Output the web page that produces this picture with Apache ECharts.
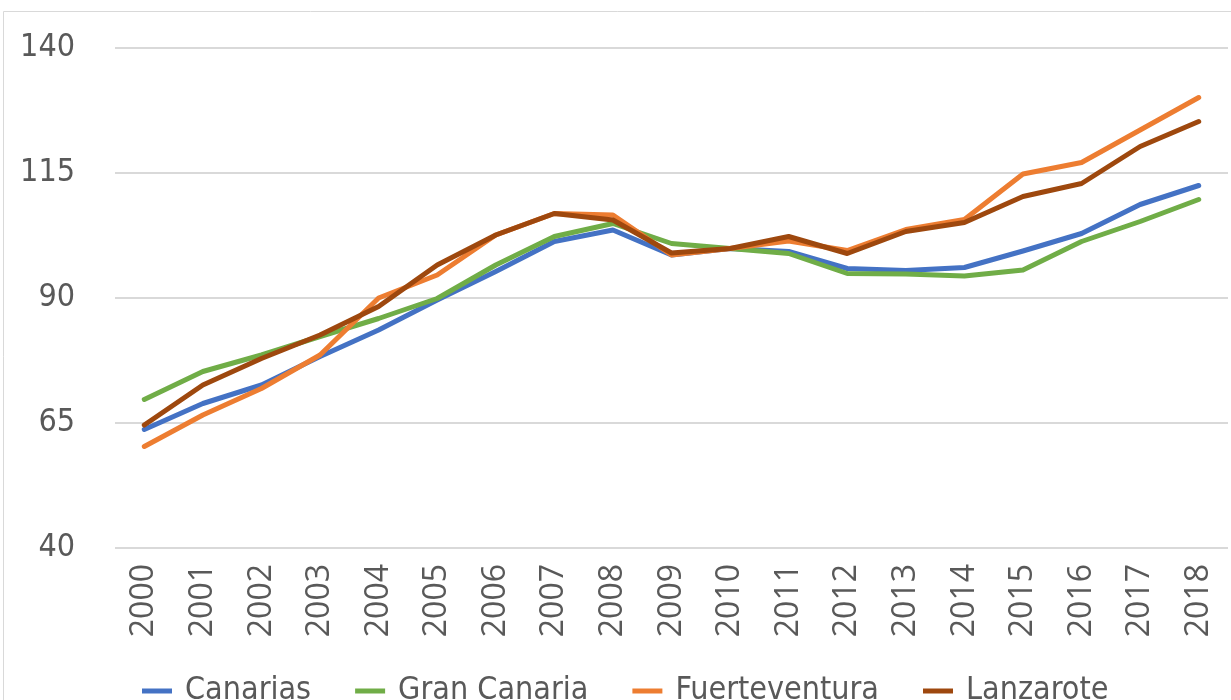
<!DOCTYPE html>
<html>
<head>
<meta charset="utf-8">
<script src="https://cdn.jsdelivr.net/npm/echarts@6/dist/echarts.min.js"></script>
<style>
  html, body { margin: 0; padding: 0; background: #fff; }
  #chart { width: 1231px; height: 700px; }
</style>
</head>
<body>
<div id="chart"></div>
<script>
// años
var years = ["2000", "2001", "2002", "2003", "2004", "2005", "2006", "2007", "2008", "2009",
  "2010", "2011", "2012", "2013", "2014", "2015", "2016", "2017", "2018"];
var canarias = [63.7, 68.9, 72.6, 78.3, 83.6, 89.6, 95.3, 101.3, 103.6, 98.6, 99.9, 99.3, 95.9, 95.5, 96.1, 99.4, 102.9, 108.7, 112.5];
var granCanaria = [69.7, 75.3, 78.6, 82.3, 85.9, 89.9, 96.6, 102.3, 104.9, 100.9, 99.9, 98.9, 94.9, 94.8, 94.4, 95.6, 101.3, 105.3, 109.7];
var fuerteventura = [60.3, 66.6, 71.9, 78.6, 90.0, 94.6, 102.6, 106.9, 106.6, 98.6, 99.9, 101.4, 99.5, 103.7, 105.7, 114.8, 117.1, 123.6, 130.1];
var lanzarote = [64.6, 72.6, 77.9, 82.6, 88.3, 96.6, 102.6, 106.9, 105.6, 99.0, 99.9, 102.3, 98.9, 103.3, 105.1, 110.3, 112.9, 120.3, 125.3];

var textColor = "#595959";
var narrow = "'Liberation Sans Narrow', 'DejaVu Sans Condensed', sans-serif";

function serie(name, data, color) {
  return {
    name: name,
    type: "line",
    data: data,
    symbol: "none",
    itemStyle: { color: color },
    lineStyle: { width: 5, color: color, cap: "round", join: "round" }
  };
}

var chart = echarts.init(document.getElementById("chart"));
chart.setOption({
  animation: false,
  backgroundColor: "#fff",
  grid: { left: 115, right: 3, top: 48, bottom: 152 },
  legend: {
    top: 670,
    left: 137,
    itemWidth: 30,
    itemHeight: 5,
    itemGap: 44,
    icon: "rect",
    textStyle: { color: textColor, fontSize: 32, fontFamily: narrow, padding: [0, 0, 0, 8] },
    data: ["Canarias", "Gran Canaria", "Fuerteventura", "Lanzarote"]
  },
  xAxis: {
    type: "category",
    data: years,
    boundaryGap: true,
    axisLine: { show: false },
    axisTick: { show: false },
    axisLabel: {
      rotate: 90,
      margin: 16,
      color: textColor,
      fontSize: 32,
      fontFamily: "'Open Sans', sans-serif"
    }
  },
  yAxis: {
    type: "value",
    min: 40,
    max: 140,
    interval: 25,
    axisLine: { show: false },
    axisTick: { show: false },
    splitLine: { lineStyle: { color: "#d9d9d9", width: 2 } },
    axisLabel: {
      margin: 40,
      color: textColor,
      fontSize: 32,
      fontFamily: narrow
    }
  },
  graphic: [{
    type: "rect",
    silent: true,
    z: -10,
    shape: { x: 3.5, y: 11.5, width: 1240, height: 700 },
    style: { fill: null, stroke: "#d9d9d9", lineWidth: 1 }
  }],
  series: [
    serie("Canarias", canarias, "#4472C4"),
    serie("Gran Canaria", granCanaria, "#70AD47"),
    serie("Fuerteventura", fuerteventura, "#ED7D31"),
    serie("Lanzarote", lanzarote, "#9E480E")
  ]
});
</script>
</body>
</html>
